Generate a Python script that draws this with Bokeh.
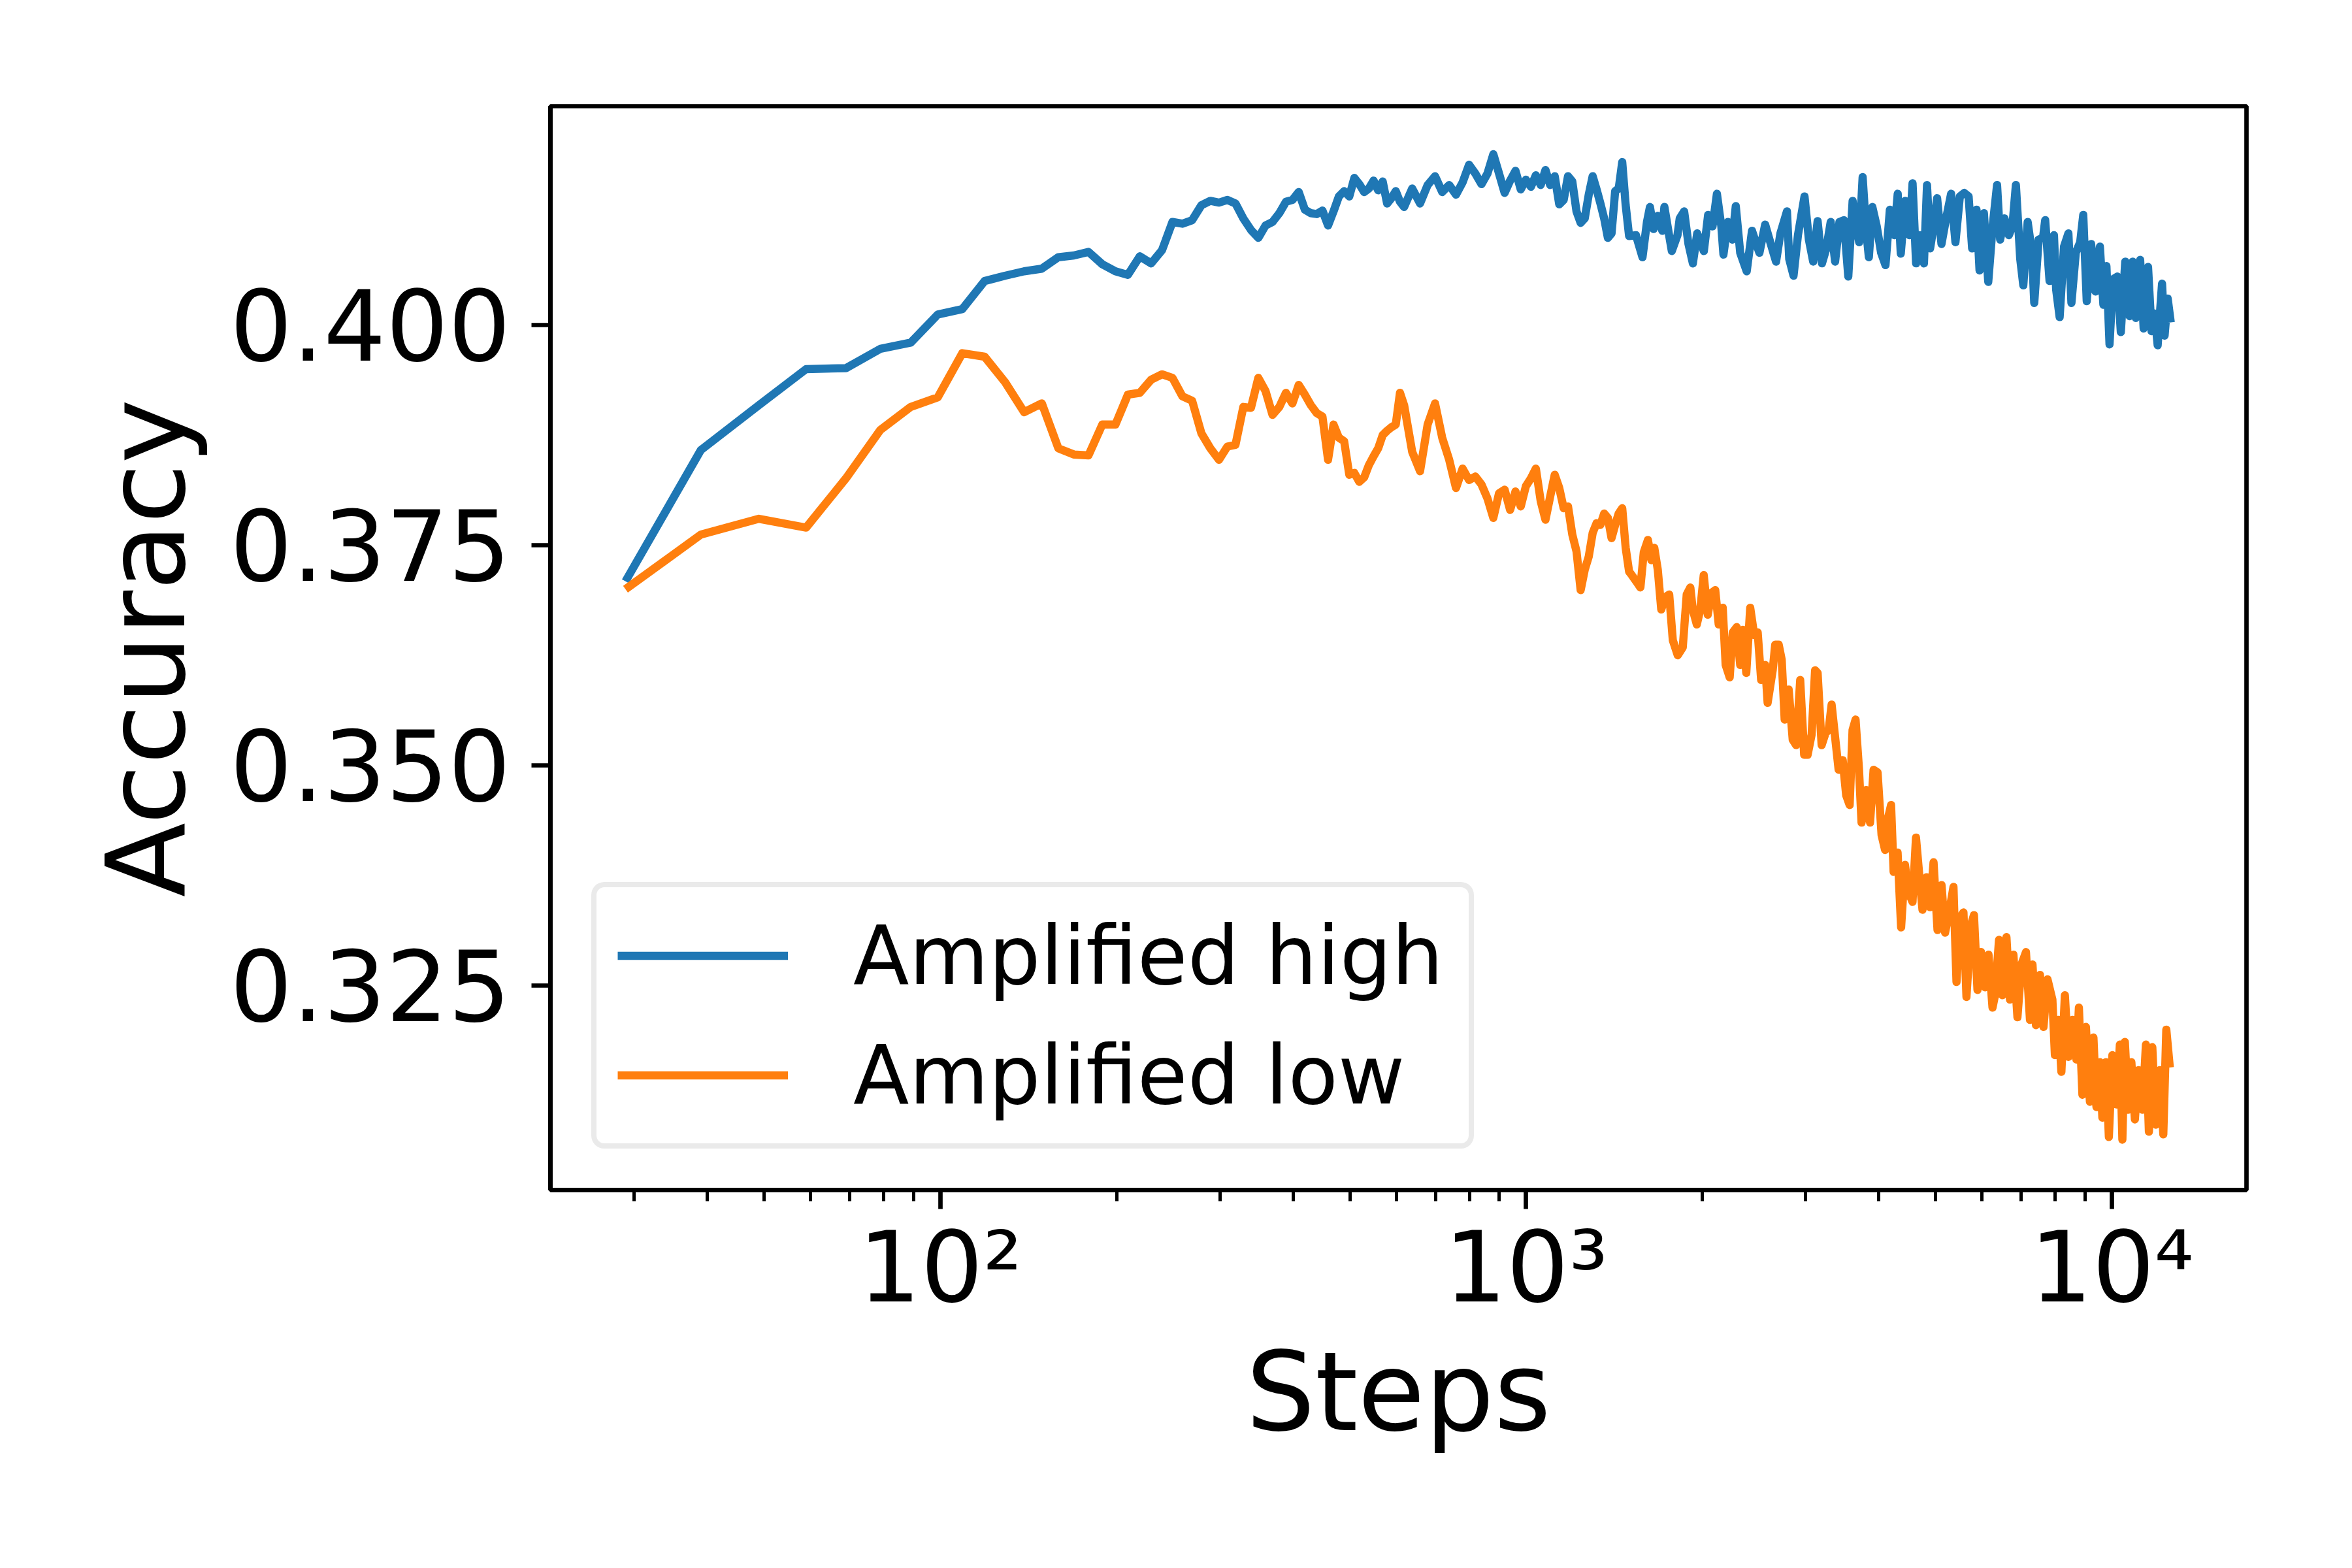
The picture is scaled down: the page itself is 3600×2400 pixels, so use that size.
from bokeh.plotting import figure
from bokeh.models import FixedTicker, Legend, LegendItem, Range1d, PrintfTickFormatter
from bokeh.embed import file_html
from bokeh.resources import INLINE

# ---------------- data ----------------
steps_early = [29, 39, 49, 59, 69, 79, 89, 99, 109, 119, 129, 139, 149, 159, 169, 179, 189, 199,
               209, 219, 229, 239, 249, 259, 269, 279, 289, 299, 309, 319, 329, 339, 349, 359,
               369, 379, 389, 399, 409, 419, 429, 439, 449, 459, 469, 479, 489, 499, 509, 519,
               529, 539, 549, 559, 569, 579, 589, 599, 609, 619, 639, 659, 679, 699, 719, 739,
               759, 779, 799, 819, 839, 859, 879, 899, 919, 939, 959, 979, 999, 1019, 1039, 1059,
               1079, 1099, 1119, 1139, 1159, 1179, 1199, 1219, 1239, 1259, 1279, 1299, 1319,
               1339, 1359, 1379, 1399, 1419, 1439, 1459, 1479, 1499]

high_early = [0.3709, 0.3858, 0.3909, 0.3950, 0.3951, 0.3973, 0.3980, 0.4012, 0.4018, 0.4050,
              0.4056, 0.4061, 0.4064, 0.4077, 0.4079, 0.4083, 0.4069, 0.4061, 0.4057, 0.4078,
              0.4070, 0.4085, 0.4117, 0.4115, 0.4119, 0.4136, 0.4141, 0.4139, 0.4142, 0.4138,
              0.4121, 0.4108, 0.4099, 0.4113, 0.4117, 0.4127, 0.4140, 0.4142, 0.4151, 0.4131,
              0.4127, 0.4126, 0.4130, 0.4113, 0.4129, 0.4146, 0.4152, 0.4146, 0.4167, 0.4160,
              0.4151, 0.4155, 0.4164, 0.4153, 0.4163, 0.4138, 0.4144, 0.4152, 0.4140, 0.4134,
              0.4155, 0.4138, 0.4159, 0.4169, 0.4151, 0.4159, 0.4148, 0.4162, 0.4182, 0.4172,
              0.4160, 0.4172, 0.4194, 0.4172, 0.4150, 0.4164, 0.4175, 0.4154, 0.4165, 0.4157,
              0.4170, 0.4159, 0.4176, 0.4159, 0.4169, 0.4137, 0.4142, 0.4169, 0.4163, 0.4129,
              0.4116, 0.4121, 0.4148, 0.4169, 0.4154, 0.4138, 0.4121, 0.4099, 0.4104, 0.4152,
              0.4155, 0.4185, 0.4136, 0.4101]

low_early = [0.3700, 0.3762, 0.3780, 0.3770, 0.3826, 0.3881, 0.3907, 0.3918, 0.3968, 0.3964,
             0.3935, 0.3901, 0.3911, 0.3860, 0.3853, 0.3852, 0.3887, 0.3887, 0.3921, 0.3923,
             0.3938, 0.3944, 0.3940, 0.3919, 0.3914, 0.3877, 0.3860, 0.3847, 0.3862, 0.3864,
             0.3907, 0.3906, 0.3940, 0.3925, 0.3898, 0.3907, 0.3923, 0.3911, 0.3932, 0.3921,
             0.3909, 0.3900, 0.3896, 0.3847, 0.3887, 0.3872, 0.3868, 0.3830, 0.3832, 0.3822,
             0.3827, 0.3841, 0.3851, 0.3860, 0.3875, 0.3880, 0.3884, 0.3887, 0.3923, 0.3909,
             0.3856, 0.3834, 0.3887, 0.3911, 0.3872, 0.3847, 0.3815, 0.3837, 0.3824, 0.3828,
             0.3819, 0.3803, 0.3781, 0.3809, 0.3813, 0.3790, 0.3811, 0.3794, 0.3817, 0.3826,
             0.3837, 0.3800, 0.3779, 0.3805, 0.3830, 0.3815, 0.3792, 0.3794, 0.3762, 0.3743,
             0.3699, 0.3722, 0.3737, 0.3764, 0.3775, 0.3773, 0.3786, 0.3781, 0.3758, 0.3773,
             0.3786, 0.3792, 0.3747, 0.3720]

steps_high_late = [1540, 1580, 1608, 1627, 1650, 1678, 1708, 1722, 1752, 1773,
                   1813, 1829, 1861, 1893, 1926, 1959, 2011, 2045, 2081, 2117,
                   2154, 2172, 2210, 2249, 2280, 2320, 2380, 2430, 2472, 2502,
                   2559, 2603, 2671, 2717, 2788, 2813, 2861, 2911, 2987, 3039,
                   3091, 3145, 3199, 3255, 3311, 3369, 3427, 3487, 3548, 3609,
                   3703, 3754, 3801, 3847, 3900, 3968, 4037, 4107, 4178, 4250,
                   4309, 4361, 4437, 4514, 4568, 4632, 4696, 4777, 4835, 4894,
                   4962, 5031, 5118, 5205, 5315, 5407, 5501, 5597, 5694, 5773,
                   5873, 5944, 6047, 6151, 6258, 6368, 6445, 6557, 6670, 6763,
                   6857, 6975, 7060, 7182, 7306, 7370, 7498, 7628, 7694, 7827,
                   7964, 8033, 8144, 8285, 8429, 8530, 8677, 8829, 8936, 9059,
                   9217, 9377, 9540, 9672, 9788, 9908, 10045, 10219, 10358, 10540,
                   10724, 10853, 10985, 11176, 11331, 11528, 11687, 11829, 11972, 12180,
                   12303, 12454, 12605]

high_late = [0.4102, 0.4077, 0.4117, 0.4134, 0.4109, 0.4124, 0.4107, 0.4134, 0.4104, 0.4084,
             0.4102, 0.4121, 0.4129, 0.4092, 0.4070, 0.4104, 0.4084, 0.4125, 0.4112, 0.4149,
             0.4112, 0.4080, 0.4117, 0.4097, 0.4135, 0.4082, 0.4061, 0.4107, 0.4092, 0.4082,
             0.4114, 0.4097, 0.4072, 0.4104, 0.4129, 0.4075, 0.4056, 0.4102, 0.4146, 0.4097,
             0.4072, 0.4118, 0.4070, 0.4087, 0.4117, 0.4072, 0.4117, 0.4119, 0.4055, 0.4141,
             0.4094, 0.4168, 0.4112, 0.4077, 0.4134, 0.4112, 0.4082, 0.4068, 0.4131, 0.4102,
             0.4149, 0.4081, 0.4141, 0.4102, 0.4161, 0.4070, 0.4102, 0.4070, 0.4159, 0.4087,
             0.4112, 0.4144, 0.4092, 0.4119, 0.4149, 0.4094, 0.4146, 0.4150, 0.4146, 0.4087,
             0.4131, 0.4062, 0.4127, 0.4049, 0.4112, 0.4159, 0.4097, 0.4121, 0.4102, 0.4112,
             0.4159, 0.4075, 0.4045, 0.4117, 0.4082, 0.4025, 0.4097, 0.4099, 0.4119, 0.4050,
             0.4102, 0.4040, 0.4009, 0.4089, 0.4104, 0.4025, 0.4082, 0.4094, 0.4125, 0.4027,
             0.4092, 0.4038, 0.4089, 0.4023, 0.4067, 0.3978, 0.4052, 0.4055, 0.3992, 0.4072,
             0.4010, 0.4072, 0.4008, 0.4074, 0.3996, 0.4066, 0.3993, 0.4013, 0.3977, 0.4047,
             0.3988, 0.4030, 0.4003]

steps_low_late = [1515, 1545, 1567, 1588, 1614, 1636, 1655, 1678, 1701, 1728,
                  1755, 1780, 1815, 1851, 1880, 1907, 1925, 1956, 1983, 2010,
                  2042, 2074, 2103, 2132, 2166, 2191, 2226, 2253, 2288, 2320,
                  2343, 2376, 2413, 2451, 2485, 2519, 2559, 2584, 2636, 2662,
                  2699, 2731, 2763, 2807, 2852, 2891, 2937, 2983, 3024, 3072,
                  3114, 3145, 3195, 3246, 3284, 3323, 3369, 3416, 3471, 3519,
                  3567, 3608, 3651, 3701, 3738, 3805, 3865, 3919, 3981, 4044,
                  4100, 4141, 4198, 4240, 4307, 4367, 4434, 4496, 4567, 4630,
                  4685, 4750, 4826, 4892, 4961, 5039, 5119, 5191, 5273, 5365,
                  5429, 5515, 5580, 5646, 5747, 5815, 5896, 5978, 6073, 6157,
                  6255, 6317, 6417, 6504, 6607, 6699, 6791, 6899, 7009, 7134,
                  7247, 7319, 7420, 7538, 7643, 7764, 7915, 7993, 8103, 8200,
                  8313, 8429, 8562, 8698, 8784, 8907, 9030, 9173, 9301, 9412,
                  9542, 9633, 9766, 9882, 10019, 10178, 10319, 10421, 10524, 10670,
                  10797, 10947, 11098, 11276, 11432, 11567, 11723, 11885, 12074, 12241,
                  12386, 12558]

low_late = [0.3716, 0.3708, 0.3702, 0.3742, 0.3756, 0.3733, 0.3747, 0.3722, 0.3677, 0.3691,
            0.3694, 0.3642, 0.3625, 0.3634, 0.3694, 0.3702, 0.3677, 0.3660, 0.3677, 0.3716,
            0.3671, 0.3696, 0.3699, 0.3660, 0.3679, 0.3614, 0.3600, 0.3651, 0.3657, 0.3614,
            0.3654, 0.3605, 0.3679, 0.3648, 0.3651, 0.3597, 0.3614, 0.3571, 0.3608, 0.3637,
            0.3637, 0.3620, 0.3552, 0.3586, 0.3529, 0.3523, 0.3597, 0.3512, 0.3512, 0.3535,
            0.3608, 0.3605, 0.3523, 0.3537, 0.3540, 0.3569, 0.3532, 0.3495, 0.3506, 0.3466,
            0.3455, 0.3540, 0.3552, 0.3495, 0.3435, 0.3472, 0.3435, 0.3495, 0.3492, 0.3421,
            0.3404, 0.3438, 0.3455, 0.3379, 0.3401, 0.3316, 0.3387, 0.3356, 0.3345, 0.3418,
            0.3379, 0.3336, 0.3373, 0.3339, 0.3390, 0.3313, 0.3364, 0.3310, 0.3333, 0.3362,
            0.3254, 0.3328, 0.3333, 0.3237, 0.3319, 0.3330, 0.3245, 0.3288, 0.3248, 0.3285,
            0.3225, 0.3239, 0.3302, 0.3239, 0.3305, 0.3234, 0.3285, 0.3214, 0.3274, 0.3288,
            0.3211, 0.3274, 0.3205, 0.3262, 0.3203, 0.3257, 0.3234, 0.3171, 0.3211, 0.3152,
            0.3239, 0.3169, 0.3211, 0.3166, 0.3225, 0.3126, 0.3203, 0.3118, 0.3191, 0.3112,
            0.3163, 0.3100, 0.3163, 0.3078, 0.3171, 0.3115, 0.3183, 0.3075, 0.3186, 0.3109,
            0.3163, 0.3098, 0.3154, 0.3109, 0.3183, 0.3084, 0.3180, 0.3092, 0.3154, 0.3081,
            0.3200, 0.3157]

series_labels = ["Amplified high", "Amplified low"]
x_major_ticks = [100, 1000, 10000]
x_major_labels = ["10\u00b2", "10\u00b3", "10\u2074"]
x_minor_ticks = [30, 40, 50, 60, 70, 80, 90, 200, 300, 400, 500, 600, 700, 800, 900,
                 2000, 3000, 4000, 5000, 6000, 7000, 8000, 9000]
y_ticks = [0.325, 0.350, 0.375, 0.400]

steps_high = steps_early + steps_high_late
acc_high = high_early + high_late
steps_low = steps_early + steps_low_late
acc_low = low_early + low_late

# ---------------- figure ----------------
FONT = "DejaVu Sans"
p = figure(width=3584, height=2384, x_axis_type="log",
           x_range=Range1d(21.59, 16975), y_range=Range1d(0.30178, 0.42485),
           output_backend="svg", toolbar_location=None,
           min_border_left=842, min_border_right=146, min_border_top=162, min_border_bottom=563)
p.background_fill_color = "white"
p.border_fill_color = "white"
p.grid.visible = False
p.outline_line_color = "black"
p.outline_line_width = 6.7

for ax in (p.xaxis[0], p.yaxis[0]):
    ax.axis_line_color = "black"
    ax.axis_line_width = 6.7
    ax.major_tick_in = 0
    ax.major_tick_out = 29
    ax.major_tick_line_width = 6.7
    ax.major_tick_line_color = "black"
    ax.minor_tick_in = 0
    ax.minor_tick_out = 17
    ax.minor_tick_line_width = 5
    ax.minor_tick_line_color = "black"
    ax.major_label_text_font = FONT
    ax.major_label_text_font_size = "150px"
    ax.major_label_text_color = "black"
    ax.axis_label_text_font = FONT
    ax.axis_label_text_font_size = "167px"
    ax.axis_label_text_font_style = "normal"
    ax.axis_label_text_color = "black"

p.xaxis.ticker = FixedTicker(ticks=x_major_ticks, minor_ticks=x_minor_ticks)
p.xaxis.major_label_overrides = {t: s for t, s in zip(x_major_ticks, x_major_labels)}
p.xaxis.major_label_standoff = 2
p.xaxis.axis_label = "Steps"
p.xaxis.axis_label_standoff = 4

p.yaxis.ticker = FixedTicker(ticks=y_ticks)
p.yaxis.formatter = PrintfTickFormatter(format="%.3f")
p.yaxis.major_label_standoff = 32
p.yaxis.axis_label = "Accuracy"
p.yaxis.axis_label_standoff = 28

r_high = p.line(steps_high, acc_high, line_color="#1f77b4", line_width=12.5, line_join="round")
r_low = p.line(steps_low, acc_low, line_color="#ff7f0e", line_width=12.5, line_join="round")

legend = Legend(items=[LegendItem(label=series_labels[0], renderers=[r_high]),
                       LegendItem(label=series_labels[1], renderers=[r_low])],
                location=(63, 63), margin=0, padding=32, spacing=38,
                glyph_width=261, glyph_height=145, label_height=145, label_width=910,
                label_standoff=100, label_text_font=FONT, label_text_font_size="125px",
                label_text_color="black",
                border_line_color="#d6d6d6", border_line_width=8,
                background_fill_color="white", background_fill_alpha=1.0)
if "border_radius" in Legend.properties():
    legend.border_radius = 20
p.add_layout(legend)

open("out.html", "w").write(file_html(p, INLINE))
